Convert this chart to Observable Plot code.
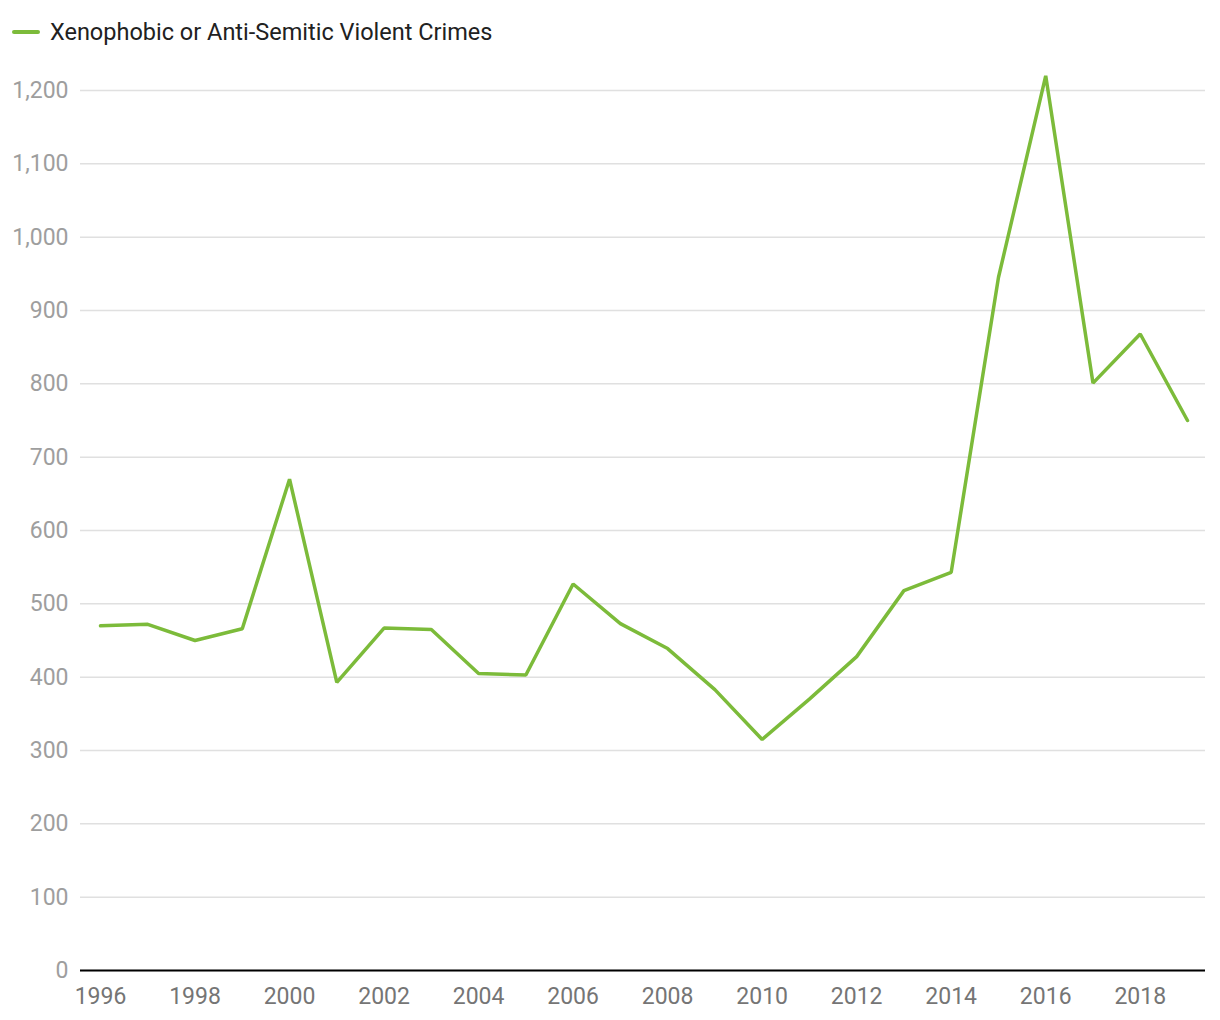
<!DOCTYPE html>
<html>
<head>
<meta charset="utf-8">
<script src="https://cdn.jsdelivr.net/npm/d3@7"></script>
<script src="https://cdn.jsdelivr.net/npm/@observablehq/plot@0.6"></script>
<style>
  html, body { margin: 0; padding: 0; background: #fff; }
  body { width: 1220px; height: 1020px; font-family: Roboto, "Noto Sans", sans-serif; }
  #legend { height: 60px; position: relative; }
  #legend .sw { position: absolute; left: 12px; top: 30px; width: 28px; height: 4px; background: #7cbb3a; border-radius: 2px; }
  #legend .lab { position: absolute; left: 50px; top: 17px; font-size: 23.5px; color: #212121; line-height: 30px; }
  #chart svg { display: block; }
</style>
</head>
<body>
<div id="legend"><span class="sw"></span><span class="lab">Xenophobic or Anti-Semitic Violent Crimes</span></div>
<div id="chart"></div>
<script>
const seriesName = "Xenophobic or Anti-Semitic Violent Crimes";
const years = [1996,1997,1998,1999,2000,2001,2002,2003,2004,2005,2006,2007,2008,2009,2010,2011,2012,2013,2014,2015,2016,2017,2018,2019];
const values = [470,472,450,466,670,393,467,465,405,403,527,473,439,383,315,370,428,518,543,945,1220,801,868,750];
const yTicks = [0,100,200,300,400,500,600,700,800,900,1000,1100,1200];
const xTicks = [1996,1998,2000,2002,2004,2006,2008,2010,2012,2014,2016,2018];

const data = years.map((y, i) => ({year: y, value: values[i]}));

const chart = Plot.plot({
  width: 1220,
  height: 960,
  marginTop: 30,
  marginBottom: 50,
  marginLeft: 80,
  marginRight: 15,
  style: {fontFamily: "Roboto, sans-serif", fontSize: "23px", background: "#fff"},
  x: {domain: [1996, 2019], insetLeft: 20, insetRight: 18},
  y: {domain: [0, 1200]},
  marks: [
    Plot.gridY(yTicks, {stroke: "#e0e0e0", strokeOpacity: 1, strokeWidth: 1.5}),
    Plot.axisY(yTicks, {tickSize: 0, tickPadding: 12, tickFormat: d3.format(","), fill: "#9e9e9e", fontSize: 23, label: null}),
    Plot.axisX(xTicks, {tickSize: 0, tickPadding: 17, tickFormat: "d", fill: "#757575", fontSize: 23, label: null}),
    Plot.ruleY([0], {stroke: "#000", strokeWidth: 2}),
    Plot.line(data, {x: "year", y: "value", stroke: "#7cbb3a", strokeWidth: 3.5, strokeLinejoin: "miter"})
  ]
});
document.getElementById("chart").appendChild(chart);
</script>
</body>
</html>
